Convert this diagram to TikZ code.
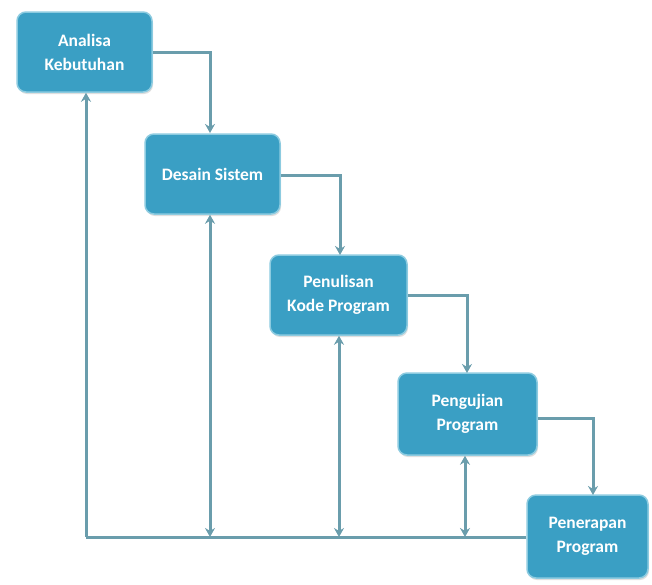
\documentclass[tikz,border=0pt]{standalone}
\usepackage{fontspec}
\setmainfont{Carlito}
\usetikzlibrary{arrows.meta,shadows}
\definecolor{boxfill}{HTML}{3A9FC4}
\definecolor{boxedge}{HTML}{8CCBE0}
\definecolor{linec}{HTML}{6A9DAC}
\tikzset{
  stagebox/.style={draw=boxedge, line width=1.5pt, fill=boxfill, rounded corners=9pt,
    minimum width=#1, text=white, font=\bfseries\fontsize{17.5}{24}\selectfont, align=center,
    drop shadow={shadow xshift=1pt, shadow yshift=-2pt, opacity=0.25}},
  conn/.style={draw=linec, line width=3pt, -{Stealth[length=9pt,width=10pt]}},
  conn2/.style={draw=linec, line width=3pt, {Stealth[length=9pt,width=10pt]}-{Stealth[length=9pt,width=10pt]}},
  plain/.style={draw=linec, line width=3pt}
}
\begin{document}
\begin{tikzpicture}[x=1pt,y=-1pt]
\useasboundingbox (0,0) rectangle (652,584);
\node[stagebox=135pt, minimum height=80pt] (a) at (84.5,52) {Analisa\\Kebutuhan};
\node[stagebox=135pt, minimum height=80pt] (b) at (212.5,174) {Desain Sistem};
\node[stagebox=137pt, minimum height=80pt] (c) at (338.5,295) {Penulisan\\Kode Program};
\node[stagebox=139pt, minimum height=82pt] (d) at (467.5,414) {Pengujian\\Program};
\node[stagebox=121pt, minimum height=83pt] (e) at (587.5,536.5) {Penerapan\\Program};
\coordinate (bl) at (86,537);
\coordinate (m2) at (210,537);
\coordinate (m3) at (339,537);
\coordinate (m4) at (465,537);
\draw[conn] (a.east |- 0,52) -| (210,133);
\draw[conn] (b.east |- 0,175) -| (340,255);
\draw[conn] (c.east |- 0,295) -| (467,373);
\draw[conn] (d.east |- 0,418) -| (593,495);
\draw[plain] (e.west |- bl) -- (bl);
\draw[conn] (bl) -- (bl |- a.south);
\draw[conn2] (m2) -- (m2 |- b.south);
\draw[conn2] (m3) -- (m3 |- c.south);
\draw[conn2] (m4) -- (m4 |- d.south);
\end{tikzpicture}
\end{document}
